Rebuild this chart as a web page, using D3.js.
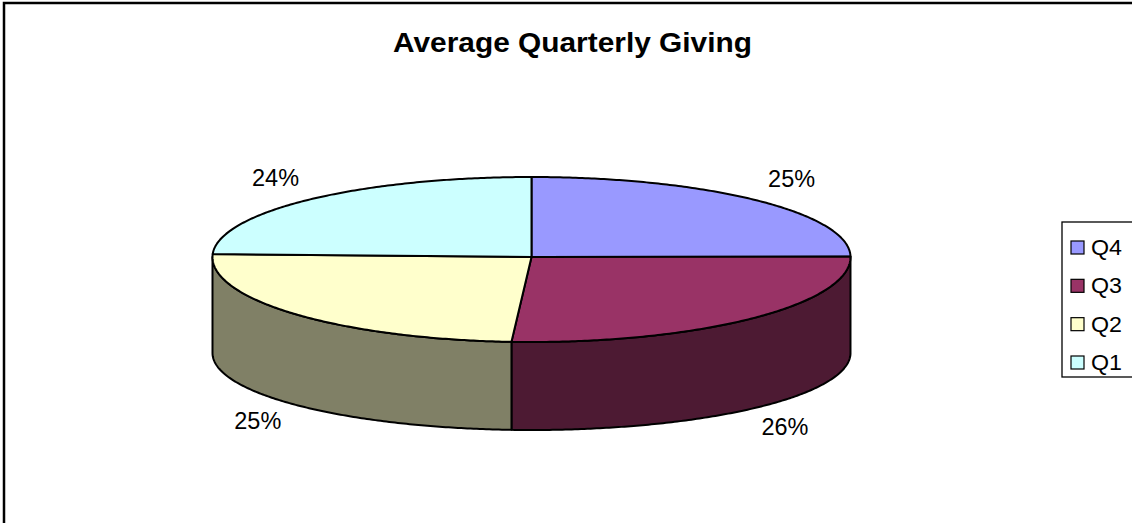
<!DOCTYPE html>
<html>
<head>
<meta charset="utf-8">
<script src="https://cdn.jsdelivr.net/npm/d3@7/dist/d3.min.js"></script>
<style>
  html, body { margin: 0; padding: 0; background: #fff; }
  svg { display: block; }
  text { font-family: "Liberation Sans", Arial, sans-serif; fill: #000; }
</style>
</head>
<body>
<svg id="chart" width="1132" height="523"></svg>
<script>
// Share of giving per quarter (percent), in drawing order from 12 o'clock clockwise
const quarters = ["Q4", "Q3", "Q2", "Q1"];
const giving = [24.9, 26.1, 24.6, 24.4];
const topColors = ["#9999FF", "#993366", "#FFFFCC", "#CCFFFF"];
const chartTitle = "Average Quarterly Giving";

const W = 1132, H = 523;
const svg = d3.select("#chart");

// Frame around the chart area
svg.append("rect")
  .attr("x", 4).attr("y", 3)
  .attr("width", W + 40).attr("height", H + 40)
  .attr("fill", "#fff").attr("stroke", "#000").attr("stroke-width", 2.5);

// Title
svg.append("text")
  .attr("x", 572.5).attr("y", 52)
  .attr("text-anchor", "middle")
  .attr("font-size", 27).attr("font-weight", "bold")
  .attr("textLength", 359).attr("lengthAdjust", "spacingAndGlyphs")
  .text(chartTitle);

// 3D pie geometry: top face ellipse is slightly deeper at the front (perspective)
const cx = 531.5, cyTop = 257, rx = 319;
const ryBack = 80, ryFront = 85;
const cyBot = 353, ryBotFront = 77;

const topPt = a => {
  const c = Math.cos(a);
  return [cx + rx * Math.sin(a), cyTop - (c > 0 ? ryBack : ryFront) * c];
};
const botPt = a => [cx + rx * Math.sin(a), cyBot - ryBotFront * Math.cos(a)];

const arcPts = (fn, a0, a1) => {
  const n = Math.max(2, Math.ceil(Math.abs(a1 - a0) / 0.01));
  return d3.range(n + 1).map(i => fn(a0 + (a1 - a0) * i / n));
};

const pie = d3.pie().sort(null).startAngle(0).endAngle(2 * Math.PI);
const slices = pie(giving).map((d, i) => ({ ...d, name: quarters[i], color: topColors[i] }));
const total = d3.sum(giving);

const sideColor = c => {
  const r = d3.rgb(c);
  return d3.rgb(Math.round(r.r / 2), Math.round(r.g / 2), Math.round(r.b / 2)).formatHex();
};

const line = d3.line();
const g = svg.append("g")
  .attr("stroke", "#000").attr("stroke-width", 2).attr("stroke-linejoin", "round");

// Visible outer walls (front half, angles between 90° and 270°)
slices.forEach(d => {
  const s = Math.max(d.startAngle, Math.PI / 2);
  const e = Math.min(d.endAngle, 3 * Math.PI / 2);
  if (e <= s) return;
  const pts = arcPts(topPt, s, e).concat(arcPts(botPt, e, s));
  g.append("path")
    .attr("d", line(pts) + "Z")
    .attr("fill", sideColor(d.color));
});

// Top faces
slices.forEach(d => {
  const pts = [[cx, cyTop]].concat(arcPts(topPt, d.startAngle, d.endAngle));
  g.append("path")
    .attr("d", line(pts) + "Z")
    .attr("fill", d.color);
});

// Percentage labels outside each slice
const fmt = d3.format(".0%");
slices.forEach(d => {
  const mid = (d.startAngle + d.endAngle) / 2;
  const c = Math.cos(mid);
  const x = cx + 369 * Math.sin(mid);
  const y = cyTop - 110 * c + (c < 0 ? 90 : 0);
  svg.append("text")
    .attr("x", x).attr("y", y).attr("dy", "0.36em")
    .attr("text-anchor", "middle")
    .attr("font-size", 23)
    .attr("textLength", 47).attr("lengthAdjust", "spacingAndGlyphs")
    .text(fmt(d.value / total));
});

// Legend
const legend = svg.append("g");
legend.append("rect")
  .attr("x", 1062).attr("y", 222)
  .attr("width", 120).attr("height", 155)
  .attr("fill", "#fff").attr("stroke", "#000").attr("stroke-width", 1.3);

const rowY = d3.scalePoint().domain(quarters).range([255, 370]);
quarters.forEach((q, i) => {
  const y = rowY(q);
  legend.append("rect")
    .attr("x", 1071).attr("y", y - 14)
    .attr("width", 13).attr("height", 13)
    .attr("fill", topColors[i]).attr("stroke", "#000").attr("stroke-width", 1.2);
  legend.append("text")
    .attr("x", 1091).attr("y", y)
    .attr("font-size", 22)
    .attr("textLength", 31).attr("lengthAdjust", "spacingAndGlyphs")
    .text(q);
});
</script>
</body>
</html>
